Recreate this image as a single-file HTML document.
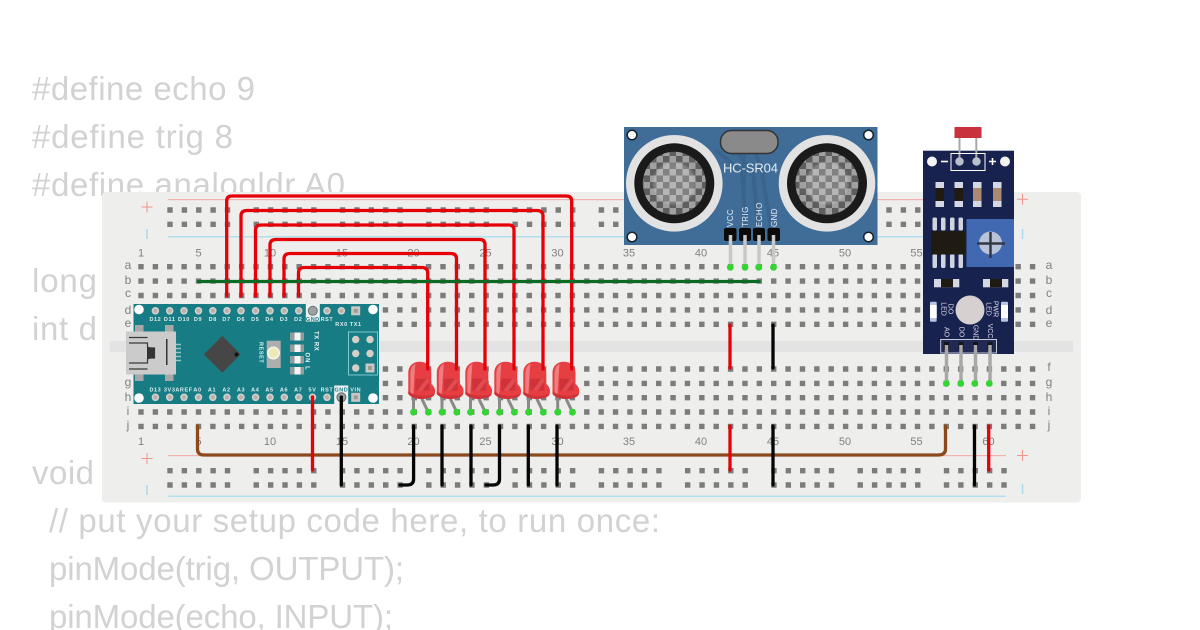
<!DOCTYPE html>
<html>
<head>
<meta charset="utf-8">
<style>
html,body{margin:0;padding:0;background:#fff;width:1200px;height:630px;overflow:hidden}
svg{display:block;font-family:"Liberation Sans",sans-serif}
.code{font-size:33px;fill:#d2d2d2}
.n{font-size:11px;fill:#808080;text-anchor:middle}
.m{font-size:12px;fill:#808080;text-anchor:middle}
.a{font-size:5.500px;font-weight:bold;fill:#d9eeee;text-anchor:middle;letter-spacing:.6px}
.g{font-size:5.500px;font-weight:bold;fill:#187c85;text-anchor:middle;letter-spacing:.5px}
.s{font-size:8px;fill:#e8eef4;text-anchor:start;letter-spacing:.4px}
.l{font-size:6.500px;fill:#dde;text-anchor:middle}
.w{fill:none;stroke-width:3.300;stroke-linecap:round;stroke-linejoin:round}
.h{fill:none;stroke:#7c7c7c;stroke-width:5.400;stroke-dasharray:5.400 8.980}
.r{fill:none;stroke:#7c7c7c;stroke-width:5.400;stroke-dasharray:5.400 8.980 5.400 8.980 5.400 8.980 5.400 8.980 5.400 23.360}
</style>
</head>
<body>
<svg width="1200" height="630" viewBox="0 0 1200 630" xmlns="http://www.w3.org/2000/svg">
<defs>
<pattern id="chk" patternUnits="userSpaceOnUse" x="0" y="0" width="13" height="13"><rect width="13" height="13" fill="#a0a0a0"/><rect width="6.500" height="6.500" fill="#5e5e5e"/><rect x="6.500" y="6.500" width="6.500" height="6.500" fill="#5e5e5e"/></pattern>
<radialGradient id="glow"><stop offset="0" stop-color="#fff" stop-opacity=".22"/><stop offset=".62" stop-color="#fff" stop-opacity=".22"/><stop offset=".72" stop-color="#fff" stop-opacity="0"/></radialGradient>
<g id="led">
<path d="M5.200 36 L5.200 50.500 M13.500 37 L20 50.500" stroke="#8a8a8a" stroke-width="3" fill="none"/>
<path d="M0 11.300 C0 4 5 0 11.500 0 C18 0 23 4.300 23 11.300 L23 22.300 C28 26 28 33 23.500 35.300 C15 38.500 5 38 0 32.300 Z" fill="#e63e42"/>
<path d="M2 11 C2.500 6 4.500 3 7 2 L5 33 L2 30.500 Z" fill="#f07c80"/>
<path d="M7 17H21V29H7Z" fill="#cf3238"/>
<path d="M9 29 L18 17 L21 17 L21 20 L14 29 Z" fill="#e04c50"/>
<path d="M0 32.300 C5 38 15 38.500 23.500 35.300 C25 34.500 26 33.500 26.500 32 C18 35 7 35 0 29.500Z" fill="#cf3238"/>
<circle cx="5.200" cy="50.500" r="3.400" fill="#33d433"/><circle cx="20" cy="50.500" r="3.400" fill="#33d433"/>
</g>
</defs>

<rect width="1200" height="630" fill="#fff"/>
<text class="code" x="32" y="100" textLength="223">#define echo 9</text>
<text class="code" x="32" y="148" textLength="201">#define trig 8</text>
<text class="code" x="32" y="196" textLength="313">#define analogldr A0</text>
<text class="code" x="32" y="292" textLength="65">long</text>
<text class="code" x="32" y="340" textLength="65">int d</text>
<text class="code" x="32" y="484" textLength="62">void</text>
<text class="code" x="49" y="532" textLength="611">// put your setup code here, to run once:</text>
<text class="code" x="49" y="580" textLength="355">pinMode(trig, OUTPUT);</text>
<text class="code" x="49" y="628" textLength="344">pinMode(echo, INPUT);</text>

<!-- breadboard -->
<rect x="102" y="192" width="979" height="310.500" rx="4" fill="#eeeeec"/>
<rect x="110" y="341" width="963" height="11" fill="#e3e3e3"/>
<rect x="168" y="199" width="838" height="1.200" fill="#f2b3ae"/>
<rect x="168" y="236" width="838" height="1.500" fill="#b0e0ee"/>
<rect x="168" y="455" width="838" height="1.200" fill="#f2b3ae"/>
<rect x="168" y="495.500" width="838" height="1.500" fill="#b0e0ee"/>
<path d="M141.500 207H152.500M147 201.500V212.500M141.500 458.500H152.500M147 453V464M1017 199.300H1028M1022.500 193.800V204.800M1017 455.500H1028M1022.500 450V461" stroke="#f0948c" stroke-width="1" fill="none"/>
<path d="M147 229V239M147 485V495M1022.500 229V239M1022.500 484V494" stroke="#a8dcec" stroke-width="1.500" fill="none"/>
<path class="h" d="M138.300 266.700H1036"/>
<path class="h" d="M138.300 281.100H1036"/>
<path class="h" d="M138.300 295.500H1036"/>
<path class="h" d="M138.300 309.900H1036"/>
<path class="h" d="M138.300 324.300H1036"/>
<path class="h" d="M138.300 369H1036"/>
<path class="h" d="M138.300 383.400H1036"/>
<path class="h" d="M138.300 397.700H1036"/>
<path class="h" d="M138.300 412H1036"/>
<path class="h" d="M138.300 426.400H1036"/>
<path class="r" d="M167.300 210H1007"/>
<path class="r" d="M167.300 224.300H1007"/>
<path class="r" d="M167.300 470.700H1007"/>
<path class="r" d="M167.300 485H1007"/>

<g class="numbers">
<text class="n" x="141" y="256.500">1</text><text class="n" x="198.500" y="256.500">5</text><text class="n" x="270" y="256.500">10</text><text class="n" x="342" y="256.500">15</text><text class="n" x="413.500" y="256.500">20</text><text class="n" x="485.500" y="256.500">25</text><text class="n" x="557.500" y="256.500">30</text><text class="n" x="629" y="256.500">35</text><text class="n" x="701" y="256.500">40</text><text class="n" x="773" y="256.500">45</text><text class="n" x="845" y="256.500">50</text><text class="n" x="916.500" y="256.500">55</text>
<text class="n" x="141" y="445">1</text><text class="n" x="198.500" y="445">5</text><text class="n" x="270" y="445">10</text><text class="n" x="342" y="445">15</text><text class="n" x="413.500" y="445">20</text><text class="n" x="485.500" y="445">25</text><text class="n" x="557.500" y="445">30</text><text class="n" x="629" y="445">35</text><text class="n" x="701" y="445">40</text><text class="n" x="773" y="445">45</text><text class="n" x="845" y="445">50</text><text class="n" x="916.500" y="445">55</text><text class="n" x="988.500" y="445">60</text>
<text class="m" x="128" y="269">a</text><text class="m" x="128" y="284">b</text><text class="m" x="128" y="297">c</text><text class="m" x="128" y="327">e</text><text class="m" x="128" y="314">d</text><text class="m" x="128" y="386">g</text><text class="m" x="128" y="401">h</text><text class="m" x="128" y="415">i</text><text class="m" x="128" y="429">j</text>
<text class="m" x="1049" y="269">a</text><text class="m" x="1049" y="284">b</text><text class="m" x="1049" y="297">c</text><text class="m" x="1049" y="314">d</text><text class="m" x="1049" y="327">e</text><text class="m" x="1049" y="371">f</text><text class="m" x="1049" y="386">g</text><text class="m" x="1049" y="401">h</text><text class="m" x="1049" y="415">i</text><text class="m" x="1049" y="429">j</text>
</g>

<!-- Arduino Nano -->
<rect x="133.500" y="304" width="245.500" height="100" fill="#187c85"/>
<rect x="305.800" y="304" width="14" height="17.500" fill="#eef2f2"/>
<rect x="334.200" y="385.500" width="14" height="18.500" fill="#eef2f2"/>
<circle cx="139" cy="309.500" r="4.800" fill="#fff"/><circle cx="373" cy="309.500" r="4.800" fill="#fff"/><circle cx="139" cy="398" r="4.800" fill="#fff"/><circle cx="373" cy="398" r="4.800" fill="#fff"/>
<g fill="#b8b2a8" stroke="#d2d2d2" stroke-width="1.500">
<circle cx="155.400" cy="310.800" r="3"/><circle cx="169.700" cy="310.800" r="3"/><circle cx="184" cy="310.800" r="3"/><circle cx="198.500" cy="310.800" r="3"/><circle cx="212.800" cy="310.800" r="3"/><circle cx="227" cy="310.800" r="3"/><circle cx="241" cy="310.800" r="3"/><circle cx="255.600" cy="310.800" r="3"/><circle cx="270" cy="310.800" r="3"/><circle cx="284.300" cy="310.800" r="3"/><circle cx="298.700" cy="310.800" r="3"/><circle cx="327" cy="310.800" r="3"/><circle cx="341.400" cy="310.800" r="3"/>
<circle cx="155.400" cy="397.300" r="3"/><circle cx="169.700" cy="397.300" r="3"/><circle cx="184" cy="397.300" r="3"/><circle cx="198.500" cy="397.300" r="3"/><circle cx="212.800" cy="397.300" r="3"/><circle cx="227" cy="397.300" r="3"/><circle cx="241" cy="397.300" r="3"/><circle cx="255.600" cy="397.300" r="3"/><circle cx="270" cy="397.300" r="3"/><circle cx="284.300" cy="397.300" r="3"/><circle cx="298.700" cy="397.300" r="3"/><circle cx="312.500" cy="397.300" r="3"/><circle cx="327" cy="397.300" r="3"/>
</g>
<circle cx="312.800" cy="310.800" r="4.500" fill="#9aa2a2" stroke="#6a7272" stroke-width="1"/>
<circle cx="341.400" cy="397.300" r="4.500" fill="#9aa2a2" stroke="#5f6a6a" stroke-width="1"/>
<rect x="351.200" y="306.300" width="9" height="9" fill="#c8c8c4"/><rect x="353.700" y="308.800" width="4" height="4" fill="#a09a94"/>
<rect x="351.200" y="392.800" width="9" height="9" fill="#c8c8c4"/><rect x="353.700" y="395.300" width="4" height="4" fill="#a09a94"/>
<g>
<text class="a" x="155.400" y="321">D12</text><text class="a" x="169.700" y="321">D11</text><text class="a" x="184" y="321">D10</text><text class="a" x="198" y="321">D9</text><text class="a" x="212.800" y="321">D8</text><text class="a" x="226.500" y="321">D7</text><text class="a" x="241" y="321">D6</text><text class="a" x="255.300" y="321">D5</text><text class="a" x="269.500" y="321">D4</text><text class="a" x="284" y="321">D3</text><text class="a" x="298.300" y="321">D2</text><text class="g" x="312.800" y="321">GND</text><text class="a" x="327" y="321">RST</text><text class="a" x="341.500" y="326">RX0</text><text class="a" x="355.700" y="326">TX1</text>
<text class="a" x="155.400" y="391.500">D13</text><text class="a" x="169.700" y="391.500">3V3</text><text class="a" x="184" y="391.500">AREF</text><text class="a" x="197.500" y="391.500">A0</text><text class="a" x="212" y="391.500">A1</text><text class="a" x="226.500" y="391.500">A2</text><text class="a" x="241" y="391.500">A3</text><text class="a" x="255.300" y="391.500">A4</text><text class="a" x="269.500" y="391.500">A5</text><text class="a" x="284" y="391.500">A6</text><text class="a" x="298.300" y="391.500">A7</text><text class="a" x="312.500" y="391.500">5V</text><text class="a" x="327" y="391.500">RST</text><text class="g" x="341.400" y="391.500">GND</text><text class="a" x="355.700" y="391.500">VIN</text>
</g>
<!-- USB -->
<rect x="135" y="325" width="8.500" height="8" fill="#a8a8a8"/><rect x="165" y="325" width="8.500" height="8" fill="#a8a8a8"/><rect x="135" y="373" width="8.500" height="8" fill="#a8a8a8"/><rect x="165" y="373" width="8.500" height="8" fill="#a8a8a8"/>
<path d="M176 344.500h5M176 348.500h5M176 352.500h5M176 356.500h5M176 360.500h5" stroke="#9cc4c4" stroke-width="1.500"/>
<rect x="126" y="331.500" width="50" height="43" fill="#cbcbcb"/>
<path d="M129 337.500H147.500M129 343H147.500V347L150 348H154.500V358H150L147.500 359V363H129M129 369H147.500" stroke="#3a3a3a" stroke-width="1.200" fill="none"/>
<path d="M147 347L155 348V358L147 359Z" fill="#333"/>
<rect x="166" y="339" width="1.500" height="26" fill="#333"/>
<!-- chip -->
<path d="M222.300 336.500L240 354.300L222.300 372L204.500 354.300Z" fill="#464646" stroke="#464646" stroke-width="1" stroke-linejoin="round"/><circle cx="236.500" cy="354.500" r="2" fill="#0c1414"/>
<!-- reset -->
<rect x="266.700" y="340.700" width="14" height="27.300" fill="#aeaeae"/><circle cx="273.400" cy="353" r="6.500" fill="#f6f6ee"/><circle cx="273.400" cy="353" r="5" fill="#eee9b4"/>
<text transform="translate(259.500,342) rotate(90)" font-size="5.500" font-weight="bold" letter-spacing=".6" fill="#e4f4f4">RESET</text>
<g>
<rect x="290" y="332.500" width="14" height="8" fill="#8f9d9b"/><rect x="294.500" y="332.500" width="6" height="8" fill="#f4f4f4"/>
<rect x="290" y="344.500" width="14" height="7.500" fill="#8f9d9b"/><rect x="294.500" y="344.500" width="6" height="7.500" fill="#f4f4f4"/>
<rect x="290" y="356" width="14" height="7.500" fill="#8f9d9b"/><rect x="294.500" y="356" width="6" height="7.500" fill="#f4f4f4"/>
<rect x="290" y="367" width="14" height="7.500" fill="#8f9d9b"/><rect x="294.500" y="367" width="6" height="7.500" fill="#f4f4f4"/>
</g>
<text transform="translate(314.500,331) rotate(90)" font-size="6" font-weight="bold" letter-spacing=".5" fill="#e4f4f4">TX RX</text>
<text transform="translate(305.500,352.500) rotate(90)" font-size="6" font-weight="bold" letter-spacing="1" fill="#e4f4f4">ON L</text>
<!-- ICSP -->
<rect x="348.500" y="332" width="29" height="43" fill="none" stroke="#7cc8cc" stroke-width="1"/>
<g fill="#d4d0c8"><circle cx="355.700" cy="339.500" r="3.700"/><circle cx="370" cy="339.500" r="3.700"/><circle cx="355.700" cy="353.500" r="3.700"/><circle cx="370" cy="353.500" r="3.700"/><circle cx="355.700" cy="368" r="3.700"/></g>
<rect x="365.500" y="363.500" width="9" height="9" fill="#c8c8c4"/><rect x="368" y="366" width="4" height="4" fill="#a09a94"/>

<!-- LEDs -->
<use href="#led" x="408.300" y="361.700"/>
<use href="#led" x="436.800" y="361.700"/>
<use href="#led" x="465.300" y="361.700"/>
<use href="#led" x="494.300" y="361.700"/>
<use href="#led" x="523.300" y="361.700"/>
<use href="#led" x="552.500" y="361.700"/>

<!-- HC-SR04 -->
<rect x="624" y="127" width="253.500" height="118" fill="#3f6d98"/>
<path d="M716 150L742 172L746 235M735 150L753 172L759 235M755 150L762 172L772 235M744 150L744 235" stroke="#3a648c" stroke-width="4" fill="none"/>
<g>
<circle cx="674.300" cy="183.300" r="48.300" fill="#e2e2e2"/><circle cx="674.300" cy="183.300" r="40" fill="#1a1a1a"/><circle cx="674.300" cy="183.300" r="31.500" fill="url(#chk)"/><circle cx="674.300" cy="183.300" r="31.500" fill="url(#glow)"/>
<circle cx="827" cy="183.300" r="48.300" fill="#e2e2e2"/><circle cx="827" cy="183.300" r="40" fill="#1a1a1a"/><circle cx="827" cy="183.300" r="31.500" fill="url(#chk)"/><circle cx="827" cy="183.300" r="31.500" fill="url(#glow)"/>
</g>
<rect x="720.500" y="130.500" width="57.500" height="23" rx="11" fill="#8a8a8a" stroke="#333" stroke-width="1.500"/>
<g fill="#fff" stroke="#14202a" stroke-width="1.500"><circle cx="632" cy="135" r="4.800"/><circle cx="868.500" cy="135" r="4.800"/><circle cx="632" cy="237" r="4.800"/><circle cx="868.500" cy="237" r="4.800"/></g>
<text x="750.500" y="172.500" text-anchor="middle" font-size="13" fill="#e4ecf2" textLength="55">HC-SR04</text>
<text class="s" transform="translate(733,227) rotate(-90)">VCC</text>
<text class="s" transform="translate(748,227) rotate(-90)">TRIG</text>
<text class="s" transform="translate(762,227) rotate(-90)">ECHO</text>
<text class="s" transform="translate(777,227) rotate(-90)">GND</text>
<g fill="#0a0a0a"><rect x="724" y="228" width="12.500" height="13" rx="2"/><rect x="739" y="228" width="12" height="13" rx="2"/><rect x="753" y="228" width="12" height="13" rx="2"/><rect x="767.500" y="228" width="12.500" height="13" rx="2"/></g>
<path d="M730.500 235V267M745 235V267M759 235V267M773.500 235V267" stroke="#c8c8c8" stroke-width="3.500" fill="none"/>
<g fill="#33d433"><circle cx="730.300" cy="267.300" r="3.400"/><circle cx="745" cy="267.300" r="3.400"/><circle cx="758.700" cy="267.300" r="3.400"/><circle cx="773.500" cy="267.300" r="3.400"/></g>

<!-- LDR module -->
<rect x="923" y="150.700" width="91" height="203.300" fill="#18224f"/>
<path d="M959.500 138V161M976.300 138V161" stroke="#a8a8a8" stroke-width="2"/>
<rect x="954.500" y="127" width="27" height="11" fill="#c9323c"/>
<rect x="951" y="153.500" width="34" height="17" fill="none" stroke="#fff" stroke-width="1"/>
<circle cx="932" cy="161.500" r="5" fill="#f4f4f4"/><circle cx="1005" cy="161.500" r="5" fill="#f4f4f4"/>
<circle cx="959.500" cy="161.500" r="4.200" fill="#b8c0cc"/><circle cx="976.500" cy="161.500" r="4.200" fill="#b8c0cc"/>
<rect x="941" y="160.700" width="7" height="1.600" fill="#fff"/>
<path d="M989 161.500h7M992.500 158v7" stroke="#fff" stroke-width="1.600"/>
<g fill="#d4d8e4"><rect x="935.500" y="182" width="8.500" height="25"/><rect x="954.500" y="182" width="8.500" height="25"/><rect x="973" y="182" width="8.500" height="25"/><rect x="993" y="182" width="8.500" height="25"/></g>
<rect x="935.500" y="188" width="8.500" height="13" fill="#1f1a12"/><rect x="954.500" y="188" width="8.500" height="13" fill="#1f1a12"/><rect x="973" y="188" width="8.500" height="13" fill="#a98a72"/><rect x="993" y="188" width="8.500" height="13" fill="#a98a72"/>
<g fill="#cfd4e0"><rect x="932.500" y="217.500" width="4.500" height="13" rx="1.500"/><rect x="941" y="217.500" width="4.500" height="13" rx="1.500"/><rect x="950" y="217.500" width="4.500" height="13" rx="1.500"/><rect x="958.500" y="217.500" width="4.500" height="13" rx="1.500"/><rect x="932.500" y="254" width="4.500" height="14" rx="1.500"/><rect x="941" y="254" width="4.500" height="14" rx="1.500"/><rect x="950" y="254" width="4.500" height="14" rx="1.500"/><rect x="958.500" y="254" width="4.500" height="14" rx="1.500"/></g>
<rect x="931" y="231" width="34.500" height="23.500" fill="#1f1a12"/>
<rect x="966.500" y="219" width="47.500" height="48" fill="#4169b1"/>
<circle cx="990.500" cy="243" r="11.500" fill="#b8c2d8"/>
<path d="M977 243.500h28M990.500 232v26" stroke="#333842" stroke-width="2.500"/>
<rect x="934" y="279" width="25.300" height="8.300" fill="#d4d8e4"/><rect x="941" y="279" width="12" height="8.300" fill="#1f1a12"/>
<rect x="983" y="279" width="25.300" height="8.300" fill="#d4d8e4"/><rect x="990" y="279" width="12" height="8.300" fill="#1f1a12"/>
<rect x="930" y="301.700" width="6.700" height="20" rx="1" fill="#b8c4e0"/><rect x="930" y="305" width="6.700" height="13" fill="#fff"/>
<rect x="1001" y="301.700" width="7" height="20" rx="1" fill="#b8c4e0"/><rect x="1001" y="305" width="7" height="13" fill="#fff"/>
<circle cx="970" cy="310" r="14.500" fill="#d6d1d0"/>
<text class="l" transform="translate(941.500,309) rotate(90)" style="font-size:7px">LED</text><text class="l" transform="translate(948.500,309) rotate(90)" style="font-size:7px">DO</text>
<text class="l" transform="translate(986.500,309) rotate(90)" style="font-size:7px">LED</text><text class="l" transform="translate(993.500,309) rotate(90)" style="font-size:7px">PWR</text>
<text class="l" transform="translate(944.700,332) rotate(90)" style="font-size:7px">AO</text><text class="l" transform="translate(959.500,332) rotate(90)" style="font-size:7px">DO</text><text class="l" transform="translate(973.500,332.500) rotate(90)" style="font-size:7px">GND</text><text class="l" transform="translate(988,331) rotate(90)" style="font-size:7px">VCC</text>
<rect x="940.700" y="339.500" width="55.800" height="13.500" fill="#222a54" stroke="#c8ccd8" stroke-width="1"/>
<rect x="944" y="342" width="5" height="8" fill="#14161e"/><rect x="958.500" y="342" width="5" height="8" fill="#14161e"/><rect x="973" y="342" width="5" height="8" fill="#14161e"/><rect x="987.500" y="342" width="5" height="8" fill="#14161e"/>
<path d="M946.500 345V383M961 345V383M975.500 345V383M990 345V383" stroke="#a8a8a8" stroke-width="3.500"/>
<g fill="#33d433"><circle cx="946.300" cy="383.500" r="3.400"/><circle cx="960.800" cy="383.500" r="3.400"/><circle cx="974.800" cy="383.500" r="3.400"/><circle cx="989.300" cy="383.500" r="3.400"/></g>

<!-- wires -->
<g class="w" stroke="#e60008">
<path d="M226.700 296V201Q226.700 196 232 196H566Q571.700 196 571.700 201V369"/>
<path d="M241 296V216Q241 210.500 247 210.500H537Q543 210.500 543 216V369"/>
<path d="M255.500 296V230Q255.500 225 261 225H509Q514 225 514 230V369"/>
<path d="M270 296V245Q270 239.500 276 239.500H480Q485 239.500 485 245V369"/>
<path d="M284 296V259Q284 253.500 290 253.500H451Q456.500 253.500 456.500 259V369"/>
<path d="M298.500 296V273Q298.500 267.500 304 267.500H422Q427.700 267.500 427.700 273V369"/>
</g>
<path class="w" stroke="#0c6a24" d="M198.500 281.500H759"/>
<path class="w" stroke="#8b4a1c" d="M197.500 426V449Q197.500 455 204 455H938Q945.500 455 945.500 449V426"/>
<g class="w" stroke="#e60008">
<path d="M312.500 397V470"/><path d="M730 325V368"/><path d="M730 426V470"/><path d="M988.700 426V470"/>
</g>
<g class="w" stroke="#050505">
<path d="M341.300 397V485"/>
<path d="M413.600 426V479Q413.600 485 407 485H400"/>
<path d="M442 426V485"/><path d="M471 426V485"/>
<path d="M499.500 426V479Q499.500 485 493 485H486"/>
<path d="M528.300 426V485"/><path d="M557 426V485"/>
<path d="M773 325V368"/><path d="M773 426V485"/><path d="M974.500 426V485"/>
</g>
</svg>
</body>
</html>
